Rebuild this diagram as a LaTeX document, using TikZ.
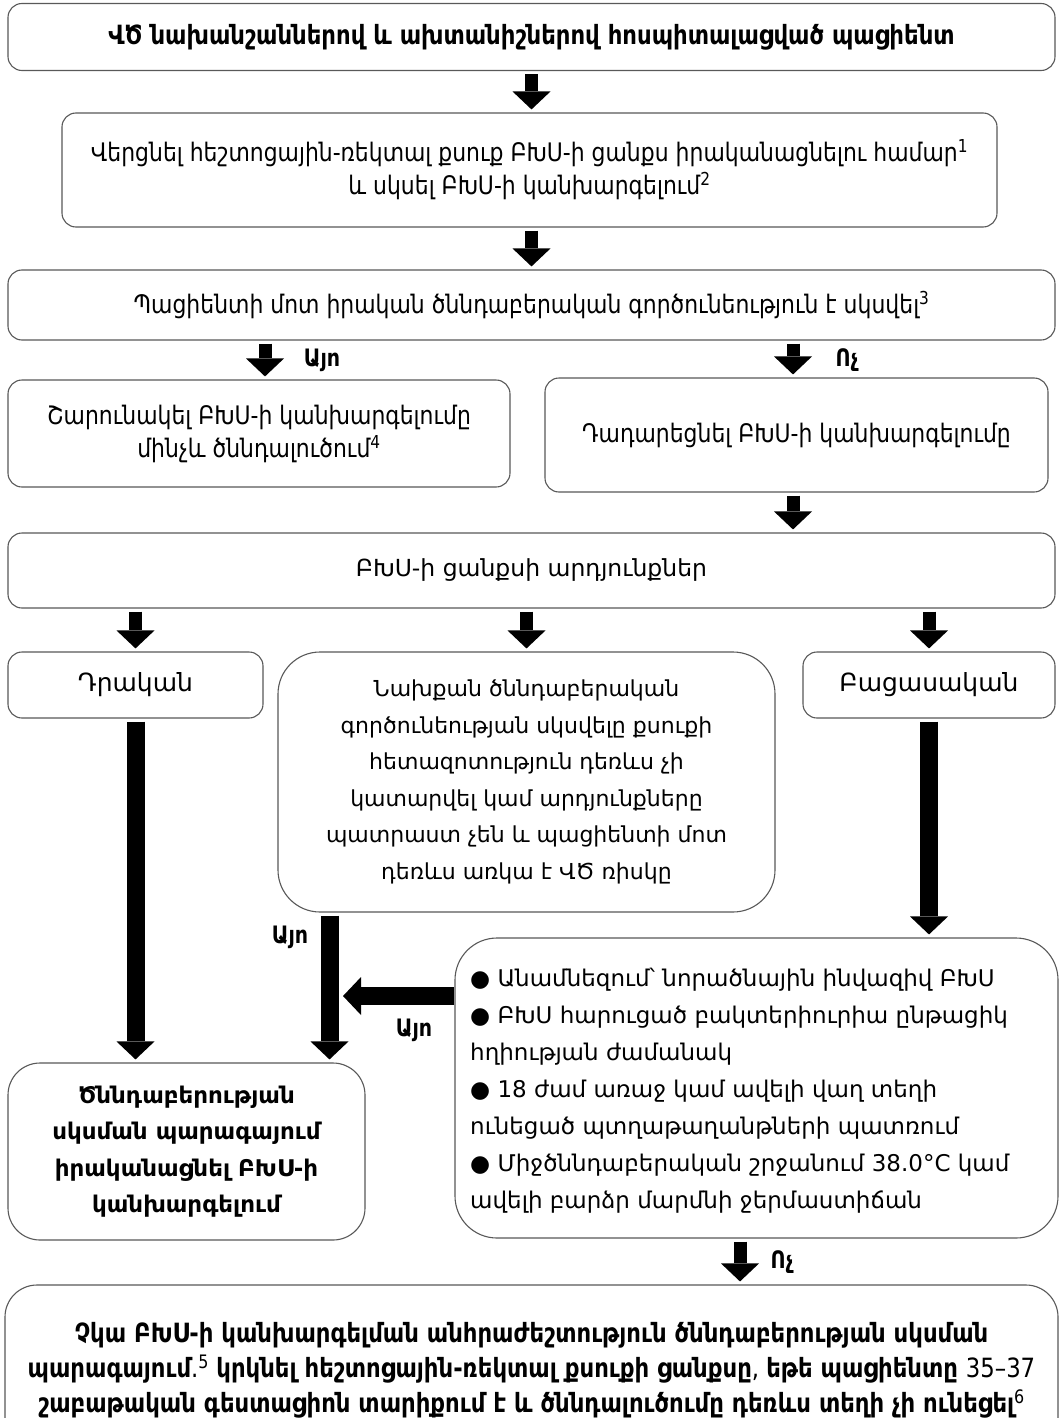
\documentclass[tikz,border=0pt]{standalone}
\usepackage{fontspec}
\setmainfont{DejaVu Sans}
\newfontfamily\condfont[FakeStretch=0.86]{DejaVu Sans}
\usetikzlibrary{arrows.meta,calc}
\begin{document}
\begin{tikzpicture}[x=1pt,y=-1pt,
  box/.style={draw=black!65, line width=1.1pt, rounded corners=14pt, fill=white, align=center, inner sep=0pt},
  bigbox/.style={box, rounded corners=42pt},
  midbox/.style={box, rounded corners=32pt},
  txt/.style={font=\fontsize{22}{36.5}\selectfont},
  ctxt/.style={font=\condfont\fontsize{25.5}{33}\selectfont},
  lbl/.style={font=\condfont\bfseries\fontsize{24}{26}\selectfont, inner sep=0pt},
  sarrow/.style={line width=13pt, -{Triangle[width=38pt,length=18pt,line width=0pt]}, shorten <=3pt, shorten >=3pt},
  larrow/.style={line width=18pt, -{Triangle[width=38pt,length=18pt,line width=0pt]}, shorten <=3pt, shorten >=3pt},
]
\useasboundingbox (0,0) rectangle (1062,1418);
\clip (0,0) rectangle (1062,1418);
\fill[white] (0,0) rectangle (1062,1418);

\node[box, font=\condfont\fontsize{26.5}{33}\selectfont, minimum width=1047pt, minimum height=67pt] (b1) at (531.5,37)
  {\bfseries ՎԾ նախանշաններով և ախտանիշներով հոսպիտալացված պացիենտ};
\node[box, ctxt, minimum width=935pt, minimum height=114pt] (b2) at (529.5,170)
  {Վերցնել հեշտոցային-ռեկտալ քսուք ԲԽՍ-ի ցանքս իրականացնելու համար\textsuperscript{1}\\ և սկսել ԲԽՍ-ի կանխարգելում\textsuperscript{2}};
\node[box, ctxt, minimum width=1047pt, minimum height=70pt] (b3) at (531.5,305)
  {Պացիենտի մոտ իրական ծննդաբերական գործունեություն է սկսվել\textsuperscript{3}};
\node[box, ctxt, minimum width=502pt, minimum height=107pt] (b4) at (259,433.5)
  {Շարունակել ԲԽՍ-ի կանխարգելումը\\ մինչև ծննդալուծում\textsuperscript{4}};
\node[box, ctxt, minimum width=503pt, minimum height=114pt] (b5) at (796.5,435)
  {Դադարեցնել ԲԽՍ-ի կանխարգելումը};
\node[box, txt, font=\fontsize{23.5}{36.5}\selectfont, minimum width=1047pt, minimum height=75pt] (b6) at (531.5,570.5)
  {ԲԽՍ-ի ցանքսի արդյունքներ};
\node[box, txt, font=\fontsize{25}{36.5}\selectfont, minimum width=255pt, minimum height=66pt] (b7) at (135.5,685)
  {Դրական};
\node[bigbox, txt, minimum width=497pt, minimum height=260pt] (b8) at (526.5,782)
  {Նախքան ծննդաբերական\\ գործունեության սկսվելը քսուքի\\ հետազոտություն դեռևս չի\\ կատարվել կամ արդյունքները\\ պատրաստ չեն և պացիենտի մոտ\\ դեռևս առկա է ՎԾ ռիսկը};
\node[box, txt, font=\fontsize{25}{36.5}\selectfont, minimum width=252pt, minimum height=66pt] (b9) at (929,685)
  {Բացասական};
\node[bigbox, txt, minimum width=603pt, minimum height=300pt] (b10) at (756.5,1088) {};
\node[align=left, anchor=west, inner sep=0pt, font=\fontsize{23}{37}\selectfont] (t10) at (470,1091)
  {● Անամնեզում՝ նորածնային ինվազիվ ԲԽՍ\\ ● ԲԽՍ հարուցած բակտերիուրիա ընթացիկ\\ հղիության ժամանակ\\ ● 18 ժամ առաջ կամ ավելի վաղ տեղի\\ ունեցած պտղաթաղանթների պատռում\\ ● Միջծննդաբերական շրջանում 38.0°C կամ\\ ավելի բարձր մարմնի ջերմաստիճան};
\node[midbox, font=\fontsize{23}{36.5}\selectfont, minimum width=357pt, minimum height=177pt] (b11) at (186.5,1151.5)
  {\bfseries Ծննդաբերության\\ \bfseries սկսման պարագայում\\ \bfseries իրականացնել ԲԽՍ-ի\\ \bfseries կանխարգելում};
\node[midbox, ctxt, minimum width=1053pt, minimum height=165pt] (b12) at (531.5,1367.5) {};
\node[align=center, inner sep=0pt, font=\condfont\fontsize{26.5}{35}\selectfont] (t12) at (531.5,1370)
  {\bfseries Չկա ԲԽՍ-ի կանխարգելման անհրաժեշտություն ծննդաբերության սկսման\\
   \bfseries պարագայում\mdseries.\textsuperscript{5} \bfseries կրկնել հեշտոցային-ռեկտալ քսուքի ցանքսը\mdseries, \bfseries եթե պացիենտը \mdseries 35–37\\
   \bfseries շաբաթական գեստացիոն տարիքում է և ծննդալուծումը դեռևս տեղի չի ունեցել\mdseries\textsuperscript{6}};

% helper coordinates
\coordinate (vx) at (329.5,0);
\coordinate (hy) at (0,996);
\coordinate (ax) at (265,0);
\coordinate (bx) at (793,0);
\coordinate (cx) at (740,0);

% arrows
\draw[sarrow] (b1.south) -- (b2.north -| b1.south);
\draw[sarrow] (b2.south -| b1.south) -- (b3.north -| b1.south);
\draw[sarrow] (b3.south -| ax) -- (b4.north -| ax);
\draw[sarrow] (b3.south -| bx) -- (b5.north -| bx);
\draw[sarrow] (b5.south -| bx) -- (b6.north -| bx);
\draw[sarrow] (b6.south -| b7.north) -- (b7.north);
\draw[sarrow] (b6.south -| b8.north) -- (b8.north);
\draw[sarrow] (b6.south -| b9.north) -- (b9.north);
\draw[larrow] (b7.south) -- (b11.north -| b7.south);
\draw[larrow] (b8.south -| vx) -- (b11.north -| vx);
\draw[larrow] (b9.south) -- (b10.north -| b9.south);
\draw[larrow, shorten <=0pt, shorten >=0pt] (b10.west |- hy) -- ($(hy -| vx)+(13.5,0)$);
\draw[sarrow] (b10.south -| cx) -- (b12.north -| cx);

% labels
\node[lbl] (l1) at (322,360) {Այո};
\node[lbl] (l2) at (847,360) {Ոչ};
\node[lbl] (l3) at (290,937) {Այո};
\node[lbl] (l4) at (414,1030) {Այո};
\node[lbl] (l5) at (782,1262) {Ոչ};
\end{tikzpicture}
\end{document}
